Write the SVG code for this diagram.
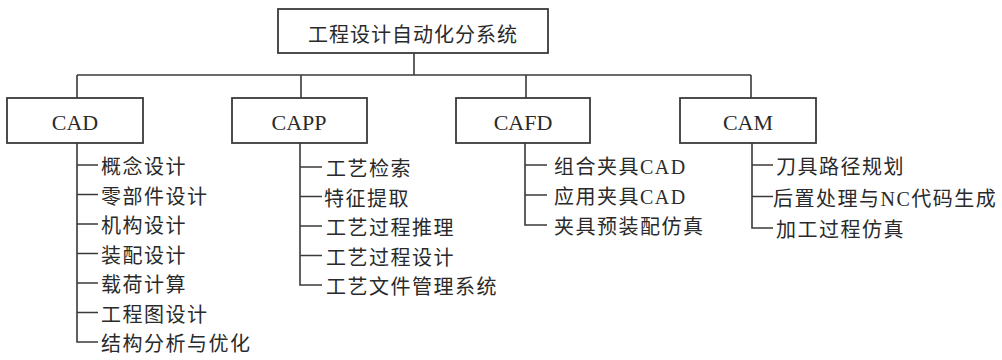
<svg xmlns="http://www.w3.org/2000/svg" width="1002" height="360" viewBox="0 0 1002 360">
<style>
.box{fill:#fff;stroke:#3a3a3a;stroke-width:1.8}
.ln{fill:none;stroke:#3a3a3a;stroke-width:1.6}
.t{font-family:"Liberation Serif","Noto Sans CJK SC",serif;fill:#2a2a2a}
.h{font-size:22px;text-anchor:middle}
.c{font-size:20px;letter-spacing:1.5px}
</style>
<rect width="1002" height="360" fill="#fff"/>
<g id="connectors">
<path class="ln" d="M414 53V75M77 75H751M77 75V98M301 75V98M526 75V98M751 75V98"/>
<path class="ln" d="M77 143V342H98M77 165H98M77 194.5H98M77 224H98M77 253.5H98M77 283H98M77 312.5H98"/>
<path class="ln" d="M300 143V285H322M300 167H322M300 196.5H322M300 226H322M300 255.5H322"/>
<path class="ln" d="M525 143V225H547M525 165H547M525 195H547"/>
<path class="ln" d="M752 143V228H773M752 165H773M752 196.5H773"/>
</g>
<g id="root"><rect class="box" x="278" y="9" width="270" height="44"/><text class="t" x="413" y="41.5" font-size="20" text-anchor="middle" letter-spacing="1">工程设计自动化分系统</text></g>
<g id="cad"><rect class="box" x="7" y="98" width="136" height="45"/><text class="t h" x="75" y="130">CAD</text></g>
<g id="capp"><rect class="box" x="232" y="98" width="135" height="45"/><text class="t h" x="299" y="130">CAPP</text></g>
<g id="cafd"><rect class="box" x="456" y="98" width="134" height="45"/><text class="t h" x="523" y="130">CAFD</text></g>
<g id="cam"><rect class="box" x="680" y="98" width="136" height="45"/><text class="t h" x="748" y="130">CAM</text></g>
<g id="cad-items" class="t c">
<text x="101" y="174">概念设计</text>
<text x="101" y="203.5">零部件设计</text>
<text x="101" y="233">机构设计</text>
<text x="101" y="262.5">装配设计</text>
<text x="101" y="292">载荷计算</text>
<text x="101" y="321.5">工程图设计</text>
<text x="101" y="351">结构分析与优化</text>
</g>
<g id="capp-items" class="t c">
<text x="326" y="176">工艺检索</text>
<text x="324" y="205.5">特征提取</text>
<text x="326" y="235">工艺过程推理</text>
<text x="326" y="264.5">工艺过程设计</text>
<text x="326" y="294">工艺文件管理系统</text>
</g>
<g id="cafd-items" class="t c">
<text x="554" y="174">组合夹具CAD</text>
<text x="554" y="204">应用夹具CAD</text>
<text x="554" y="234">夹具预装配仿真</text>
</g>
<g id="cam-items" class="t c">
<text x="776" y="174">刀具路径规划</text>
<text x="773" y="205.5">后置处理与NC代码生成</text>
<text x="776" y="237">加工过程仿真</text>
</g>
</svg>
